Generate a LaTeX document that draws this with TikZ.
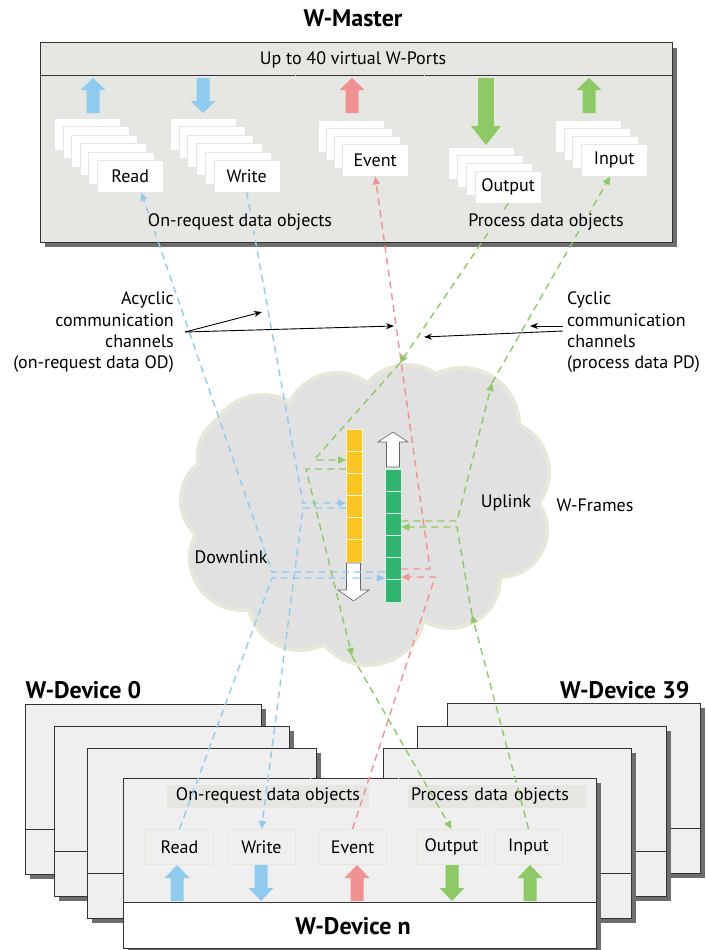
\documentclass[tikz,border=0pt]{standalone}
\usepackage{fontspec}
\setmainfont{PT Sans}
\usetikzlibrary{arrows.meta,calc}

\definecolor{odblue}{HTML}{8FCBEE}
\definecolor{evred}{HTML}{F29191}
\definecolor{pdgreen}{HTML}{8DC965}
\definecolor{dlyellow}{HTML}{FBC624}
\definecolor{ulgreen}{HTML}{2EB56E}
\definecolor{mastergray}{HTML}{E6E7E3}
\definecolor{devgray}{HTML}{EFEFEF}
\definecolor{cloudgray}{HTML}{E1E1E1}
\definecolor{cloudrim}{HTML}{E8E8DA}
\definecolor{shadowgray}{HTML}{6D6E70}

% block arrow: [width factor]{colour}{x}{tail y}{head base y}{tip y}
\newcommand{\blockarrow}[6][1]{%
  \fill[#2] ({#3-6.5*#1},#4) -- ({#3-6.5*#1},#5) -- ({#3-12.5*#1},#5) -- (#3,#6)
    -- ({#3+12.5*#1},#5) -- ({#3+6.5*#1},#5) -- ({#3+6.5*#1},#4) -- cycle;}

% one W-Device frame of a stack: {x0}{y0}{x1}{y1}
\newcommand{\devframe}[4]{%
  \fill[shadowgray] ({#1+5},{#2+5}) rectangle ({#3+5},{#4+5});
  \filldraw[fill=devgray, draw=black!80, line width=0.8pt] (#1,#2) rectangle (#3,#4);
  \draw[black!80, line width=0.8pt] (#1,{#2+125}) -- (#3,{#2+125});}

\tikzset{
  card/.style={draw=black!10, fill=white, minimum width=66pt, minimum height=32pt,
    inner sep=0pt, anchor=north west},
  slot/.style={draw=cloudrim, line width=1pt, fill=devgray, minimum width=68pt,
    minimum height=35pt, inner sep=0pt, anchor=north west},
  chan/.style={dash pattern=on 7pt off 5pt, line width=1.4pt},
  chantip/.style={-{Triangle[length=8pt,width=7pt]}},
  frame/.style={fill=white, draw=black!60, line width=0.6pt},
  note/.style={-{Stealth[length=8pt,width=6pt]}, line width=0.9pt},
  title/.style={font=\fontsize{24}{26}\selectfont\bfseries}
}

\begin{document}
\begin{tikzpicture}[x=1pt, y=-1pt, every node/.append style={font=\fontsize{18}{21.3}\selectfont}]

    \useasboundingbox (0,0) rectangle (706,950);

    % ---------- W-Master ----------
    \fill[shadowgray] (45,48) rectangle (677,247);
    \filldraw[fill=mastergray, draw=black!80, line width=0.8pt] (40,42) rectangle (672,242);
    \draw[black!80, line width=0.8pt] (40,75) -- (672,75);
    \draw[black!8, dashed] (295,75) -- (295,242) (424,75) -- (424,242);
    \node (ports) at (353,60) {Up to 40 virtual W-Ports};

    \blockarrow{odblue}{93}{113}{90}{78}
    \blockarrow{odblue}{203}{78}{101}{113}
    \blockarrow{evred}{352}{113}{90}{78}
    \blockarrow[1.2]{pdgreen}{486}{78}{126}{145}
    \blockarrow{pdgreen}{589}{113}{90}{78}

    \foreach \i in {0,...,4} \node[card] at ({54+8.6*\i},{118+8.4*\i}) {};
    \node[card] (mread) at (97,160) {Read};
    \foreach \i in {0,...,4} \node[card] at ({170+8.7*\i},{118+8.4*\i}) {};
    \node[card] (mwrite) at (213.5,160) {Write};
    \foreach \i in {0,...,2} \node[card] at ({317.5+8.2*\i},{120+8*\i}) {};
    \node[card] (mevent) at (342,144) {Event};
    \foreach \i in {0,...,2} \node[card] at ({448+9*\i},{147+8*\i}) {};
    \node[card] (moutput) at (475,171) {Output};
    \foreach \i in {0,...,2} \node[card] at ({555+8.7*\i},{120+8*\i}) {};
    \node[card] (minput) at (581,144) {Input};

    % ---------- cloud with the W-Frames ----------
    \foreach \cx/\cy/\r in {263/450/53, 337/425/50, 407/417/50, 462/425/55, 497/472/50,
        500/530/45, 450/578/48, 368/608/55, 300/598/50, 242/558/50, 228/500/45, 240/455/40}
        \fill[cloudrim] (\cx,\cy) circle ({\r+4});
    \foreach \cx/\cy/\r in {263/450/53, 337/425/50, 407/417/50, 462/425/55, 497/472/50,
        500/530/45, 450/578/48, 368/608/55, 300/598/50, 242/558/50, 228/500/45, 240/455/40}
        \fill[cloudgray] (\cx,\cy) circle (\r);
    \fill[cloudgray] (365,510) ellipse (140 and 95);

    \node[fill=dlyellow, minimum width=16pt, minimum height=133pt, inner sep=0pt,
        anchor=north west] (dl) at (346,429) {};
    \node[fill=ulgreen, minimum width=16pt, minimum height=133pt, inner sep=0pt,
        anchor=north west] (ul) at (385,469) {};
    \foreach \i in {1,...,5} {
        \draw[white!80!dlyellow, line width=1.2pt] (346,{429+22.17*\i}) -- (362,{429+22.17*\i});
        \draw[white!80!ulgreen, line width=1.2pt] (385,{469+22.17*\i}) -- (401,{469+22.17*\i});
    }
    \draw[white!80!dlyellow, line width=1pt] (dl.north west) rectangle (dl.south east);
    \draw[white!80!ulgreen, line width=1pt] (ul.north west) rectangle (ul.south east);

    \filldraw[frame] (386.5,467) -- (386.5,442) -- (378,442) -- (393,432) -- (408,442)
        -- (399.5,442) -- (399.5,467) -- cycle;
    \filldraw[frame] (346.5,563) -- (346.5,590) -- (338,590) -- (353.5,601) -- (369,590)
        -- (360.5,590) -- (360.5,563) -- cycle;

    \node (downlink) at (231,557) {Downlink};
    \node (uplink) at (506,503) {Uplink};
    \node (frames) at (595,505) {W-Frames};

    % ---------- W-Device stacks ----------
    \devframe{447}{703}{700}{873}
    \devframe{417}{726}{666}{896}
    \devframe{383}{748}{631}{918}
    \devframe{25}{704}{261}{874}
    \devframe{54}{726}{289}{896}
    \devframe{87}{748}{316}{918}

    \fill[shadowgray] (128,783) rectangle (601,953);
    \filldraw[fill=devgray, draw=black!80, line width=0.8pt] (123,778) rectangle (596,948);
    \filldraw[fill=white, draw=black!80, line width=0.8pt] (123,902) rectangle (596,948);
    \draw[cloudrim, dashed] (310,778) -- (310,902) (398.5,778) -- (398.5,902);

    \node[fill=mastergray, minimum width=202pt, minimum height=23pt, inner sep=0pt]
        (dodtxt) at (268,796) {On-request data objects};
    \node[fill=mastergray, minimum height=23pt, inner xsep=3pt, inner ysep=0pt,
        text width=172pt, anchor=west] (dpdtxt) at (408,796) {Process data objects};

    \node[slot] (dread) at (145,829) {Read};
    \node[slot] (dwrite) at (227,829) {Write};
    \node[slot] (devent) at (318,829) {Event};
    \node[slot] (doutput) at (417,829) {Output};
    \node[slot] (dinput) at (494,829) {Input};

    \blockarrow{odblue}{177}{901}{878}{865}
    \blockarrow{odblue}{261}{865}{888}{901}
    \blockarrow{evred}{357}{901}{878}{865}
    \blockarrow{pdgreen}{452}{865}{888}{901}
    \blockarrow{pdgreen}{530}{901}{878}{865}

    % ---------- communication channels ----------
    \coordinate (rdA) at (272,572);
    \coordinate (rdB) at (272,578);
    \coordinate (wrA) at (303,503);
    \coordinate (wrB) at (303,508);
    \coordinate (evA) at (430,569);
    \coordinate (evB) at (435,577);
    \coordinate (ouM) at (400,363);
    \coordinate (ouA) at (314,460);
    \coordinate (ouB) at (306,469);
    \coordinate (ouN) at (352,656);
    \coordinate (inM) at (492,383);
    \coordinate (inA) at (457,521);
    \coordinate (inB) at (457,527);
    \coordinate (inN) at (472,615);

    \draw[chan, odblue, chantip] (dread.north) -- (rdB) -- (rdB -| ul.west);
    \draw[chan, odblue, chantip] (ul.west |- rdA) -- (rdA) -- ([xshift=11pt]mread.south);
    \draw[chan, odblue, chantip] (mwrite.south) -- (wrA) -- (wrA -| dl.west);
    \draw[chan, odblue, chantip] (dl.west |- wrB) -- (wrB) -- (dwrite.north);

    \draw[chan, evred, chantip] (devent.north) -- (evB) -- (evB -| ul.east);
    \draw[chan, evred, chantip] (ul.east |- evA) -- (evA) -- (mevent.south);

    \draw[chan, pdgreen, chantip] (moutput.south) -- (ouM);
    \draw[chan, pdgreen, chantip] (ouM) -- (ouA) -- (ouA -| dl.west);
    \draw[chan, pdgreen, chantip] (dl.west |- ouB) -- (ouB) -- (ouN);
    \draw[chan, pdgreen, chantip] (ouN) -- (doutput.north);

    \draw[chan, pdgreen, chantip] (dinput.north) -- (inN);
    \draw[chan, pdgreen, chantip] (inN) -- (inB) -- (inB -| ul.east);
    \draw[chan, pdgreen, chantip] (ul.east |- inA) -- (inA) -- (inM);
    \draw[chan, pdgreen, chantip] (inM) -- ([xshift=-4pt]minput.south);

    % master captions sit on top of the channels
    \node[fill=mastergray, inner sep=1pt] (modtxt) at (240,222) {On-request data objects};
    \node[fill=mastergray, inner sep=1pt] (mpdtxt) at (546,222) {Process data objects};

    % ---------- channel notes ----------
    \node[align=right, anchor=east, inner sep=0pt] (acytxt) at (174,332.5)
        {Acyclic\\communication\\channels\\(on-request data OD)};
    \node[align=left, anchor=west, inner sep=0pt] (cyctxt) at (567,332.5)
        {Cyclic\\communication\\channels\\(process data PD)};
    \coordinate (acy) at (185,332);
    \coordinate (acyA) at (262,312);
    \coordinate (acyB) at (394,326);
    \coordinate (cycS) at (563,331);
    \coordinate (cycT) at (563,326);
    \coordinate (cycA) at (424,337);
    \coordinate (cycB) at (530,326);
    \draw[note] (acy) -- (acyA);
    \draw[note] (acy) -- (acyB);
    \draw[note] (cycS) -- (cycA);
    \draw[note] (cycT) -- (cycB);

    % ---------- titles ----------
    \node[title] (master) at (353,18) {W-Master};
    \node[title, anchor=west] (dev0) at (22,690) {W-Device 0};
    \node[title, anchor=east] (dev39) at (693,690) {W-Device 39};
    \node[title] (devn) at (353,926) {W-Device n};

\end{tikzpicture}
\end{document}
